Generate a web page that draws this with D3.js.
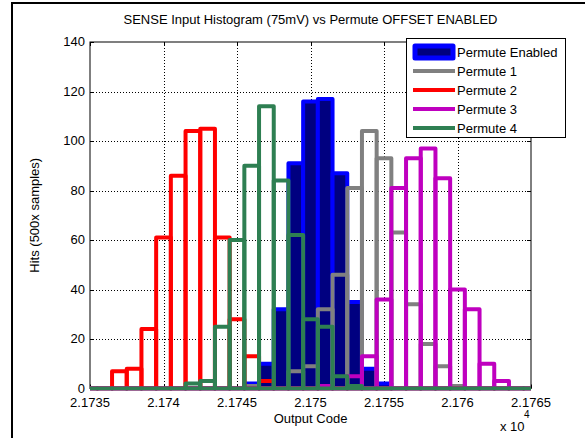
<!DOCTYPE html>
<html>
<head>
<meta charset="utf-8">
<script src="https://cdn.jsdelivr.net/npm/d3@7/dist/d3.min.js"></script>
<style>
body { margin: 0; background: #fff; }
text { font-family: "Liberation Sans", Arial, sans-serif; font-size: 13px; fill: #000; }
</style>
</head>
<body>
<div id="chart"></div>
<script>
// bin centres are output codes 21735 .. 21765 (axis shows them x 10^4)
const firstCode = 21735;
const enabled  = [0,0,0,0,0,0,0,0,0,0,0,2,10,32,91,116,117,87,35,8,2,0,0,0,0,0,0,0,0,0,0];
const permute1 = [0,0,0,0,0,0,0,0,0,0,0,1,0,0,7,9,32,46,81,104,93,63,34,18,9,1,0,0,0,0,0];
const permute2 = [0,0,7,8,24,61,86,104,105,61,28,13,3,0,0,0,0,0,0,0,0,0,0,0,0,0,0,0,0,0,0];
const permute3 = [0,0,0,0,0,0,0,0,0,0,0,0,0,0,0,0,1,0,5,13,36,81,93,97,85,40,32,10,3,0,0];
const permute4 = [0,0,0,0,0,0,0,2,3,25,60,90,114,84,62,28,25,5,1,0,0,0,0,0,0,0,0,0,0,0,0];

const xTicks = [21735, 21740, 21745, 21750, 21755, 21760, 21765];
const xTickLabels = ["2.1735", "2.174", "2.1745", "2.175", "2.1755", "2.176", "2.1765"];
const yTicks = [0, 20, 40, 60, 80, 100, 120, 140];

const seriesNames = ["Permute Enabled", "Permute 1", "Permute 2", "Permute 3", "Permute 4"];
const seriesData = [enabled, permute1, permute2, permute3, permute4];
const edgeColors = ["#0000ff", "#808080", "#ff0000", "#bf00bf", "#2e7f52"];
const faceColors = ["#000080", "none", "none", "none", "none"];

const width = 585, height = 438;
const plot = { left: 90, right: 531, top: 42, bottom: 388.5 };

let svg = d3.select("#chart")
    .append("svg")
    .attr("width", width)
    .attr("height", height);

// outer frame of the screenshot
svg.append("path")
    .attr("d", "M12,438V3H585")
    .attr("fill", "none")
    .attr("stroke", "#000")
    .attr("stroke-width", 2);

let x = d3.scaleLinear().domain([21735, 21765]).range([plot.left, plot.right]);
let y = d3.scaleLinear().domain([0, 140]).range([plot.bottom, plot.top]);

// grid
let grid = svg.append("g")
    .attr("stroke", "#000")
    .attr("stroke-width", 1)
    .attr("stroke-dasharray", "1,2");
grid.selectAll(".gx").data(xTicks.slice(1, -1)).enter()
    .append("line")
    .attr("x1", d => Math.round(x(d)) + 0.5).attr("x2", d => Math.round(x(d)) + 0.5)
    .attr("y1", plot.top).attr("y2", plot.bottom);
grid.selectAll(".gy").data(yTicks.slice(1, -1)).enter()
    .append("line")
    .attr("y1", d => Math.round(y(d)) + 0.5).attr("y2", d => Math.round(y(d)) + 0.5)
    .attr("x1", plot.left).attr("x2", plot.right);

// axes box and inward ticks
svg.append("rect")
    .attr("x", plot.left).attr("y", plot.top)
    .attr("width", plot.right - plot.left).attr("height", plot.bottom - plot.top)
    .attr("fill", "none").attr("stroke", "#000");

let ticks = svg.append("g").attr("stroke", "#000");
xTicks.forEach(t => {
    let px = Math.round(x(t)) + 0.5;
    ticks.append("line").attr("x1", px).attr("x2", px).attr("y1", plot.bottom).attr("y2", plot.bottom - 4);
    ticks.append("line").attr("x1", px).attr("x2", px).attr("y1", plot.top).attr("y2", plot.top + 4);
});
yTicks.forEach(t => {
    let py = Math.round(y(t)) + 0.5;
    ticks.append("line").attr("y1", py).attr("y2", py).attr("x1", plot.left).attr("x2", plot.left + 4);
    ticks.append("line").attr("y1", py).attr("y2", py).attr("x1", plot.right).attr("x2", plot.right - 4);
});

svg.selectAll(".xl").data(xTicks).enter()
    .append("text")
    .attr("x", d => x(d))
    .attr("y", 407)
    .style("text-anchor", "middle")
    .text((d, i) => xTickLabels[i]);

svg.selectAll(".yl").data(yTicks).enter()
    .append("text")
    .attr("x", 85)
    .attr("y", d => y(d) + 4)
    .style("text-anchor", "end")
    .text(d => d);

// bars
svg.append("clipPath").attr("id", "clip")
    .append("rect")
    .attr("x", plot.left).attr("y", plot.top - 3)
    .attr("width", plot.right - plot.left).attr("height", plot.bottom - plot.top + 5);

let bars = svg.append("g").attr("clip-path", "url(#clip)");
seriesData.forEach((counts, s) => {
    let g = bars.append("g");
    g.selectAll("path").data(counts).enter()
        .append("path")
        .attr("d", (d, i) => {
            let c = firstCode + i;
            let x0 = x(c - 0.5), x1 = x(c + 0.5);
            return `M${x0},${y(0)}V${y(d)}H${x1}V${y(0)}Z`;
        })
        .attr("fill", faceColors[s])
        .attr("stroke", edgeColors[s])
        .attr("stroke-width", 4)
        .attr("stroke-linejoin", "round");
});

// labels
svg.append("text")
    .attr("x", (plot.left + plot.right) / 2)
    .attr("y", 24)
    .style("text-anchor", "middle")
    .text("SENSE Input Histogram (75mV) vs Permute OFFSET ENABLED");

svg.append("text")
    .attr("x", (plot.left + plot.right) / 2)
    .attr("y", 423)
    .style("text-anchor", "middle")
    .text("Output Code");

svg.append("text")
    .attr("transform", `translate(39, ${(plot.top + plot.bottom) / 2}) rotate(-90)`)
    .style("text-anchor", "middle")
    .text("Hits (500x samples)");

svg.append("text").attr("x", 500).attr("y", 431).text("x 10");
svg.append("text").attr("x", 524).attr("y", 418).style("font-size", "10px").text("4");

// legend
let legend = svg.append("g");
legend.append("rect")
    .attr("x", 406.5).attr("y", 38.5)
    .attr("width", 159).attr("height", 99)
    .attr("fill", "#fff").attr("stroke", "#000");
seriesNames.forEach((name, i) => {
    let cy = 52 + i * 19;
    if (i === 0) {
        legend.append("rect")
            .attr("x", 415).attr("y", cy - 6)
            .attr("width", 38).attr("height", 12)
            .attr("fill", faceColors[0]).attr("stroke", edgeColors[0])
            .attr("stroke-width", 5).attr("stroke-linejoin", "round");
    } else {
        legend.append("line")
            .attr("x1", 413).attr("x2", 455)
            .attr("y1", cy).attr("y2", cy)
            .attr("stroke", edgeColors[i]).attr("stroke-width", 4);
    }
    legend.append("text")
        .attr("x", 457)
        .attr("y", cy + 5)
        .text(name);
});
</script>
</body>
</html>
